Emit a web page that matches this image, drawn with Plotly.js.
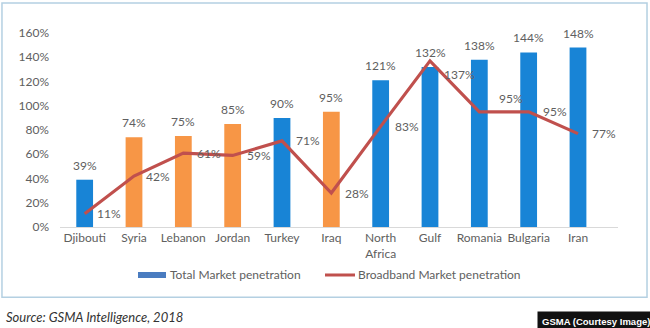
<!DOCTYPE html>
<html>
<head>
<meta charset="utf-8">
<script src="https://cdn.plot.ly/plotly-3.0.1.min.js"></script>
<style>html,body{margin:0;padding:0;background:#fff;}#chart{width:650px;height:328px;}</style>
</head>
<body>
<div id="chart"></div>
<script>
var categories = ["Djibouti","Syria","Lebanon","Jordan","Turkey","Iraq","North<br>Africa","Gulf","Romania","Bulgaria","Iran"];
var totalPenetration = [39,74,75,85,90,95,121,132,138,144,148];
var broadbandPenetration = [11,42,61,59,71,28,83,137,95,95,77];
var barGroup = ["b","o","o","o","b","o","b","b","b","b","b"];
var seriesNames = ["Total Market penetration","Broadband Market penetration"];
var yTickVals = [0,20,40,60,80,100,120,140,160];
var yTickText = ["0%","20%","40%","60%","80%","100%","120%","140%","160%"];

var BLUE = "#1884d6", ORANGE = "#f79646", RED = "#c0504d", TXT = "#606060";
var FONT = "Lato, 'Open Sans', sans-serif";

var lineLabelShift = [[10,0],[10,0],[12,0],[12,0],[12,0],[12,0],[12,0],[12,-14],[18,13],[12,0],[12,0]];

var annotations = [];
categories.forEach(function(c,i){
  annotations.push({x:c,y:totalPenetration[i],xref:"x",yref:"y",text:totalPenetration[i]+"%",
    showarrow:false,yanchor:"bottom",yshift:5,font:{family:FONT,size:12,color:TXT}});
  annotations.push({x:c,y:broadbandPenetration[i],xref:"x",yref:"y",text:broadbandPenetration[i]+"%",
    showarrow:false,xanchor:"left",yanchor:"middle",xshift:lineLabelShift[i][0],yshift:lineLabelShift[i][1],
    font:{family:FONT,size:12,color:TXT}});
});
// legend texts
annotations.push({xref:"paper",yref:"paper",x:0.1935,y:-0.2474,xanchor:"left",yanchor:"middle",showarrow:false,
  text:seriesNames[0],font:{family:FONT,size:12,color:TXT}});
annotations.push({xref:"paper",yref:"paper",x:0.5305,y:-0.2474,xanchor:"left",yanchor:"middle",showarrow:false,
  text:seriesNames[1],font:{family:FONT,size:12,color:TXT}});
annotations.push({xref:"paper",yref:"paper",x:-0.1,y:-0.465,xanchor:"left",yanchor:"middle",showarrow:false,
  text:"<i>Source: GSMA Intelligence, 2018</i>",font:{family:FONT,size:13,color:"#333"}});
annotations.push({xref:"paper",yref:"paper",x:1.066,y:-0.486,xanchor:"right",yanchor:"middle",showarrow:false,
  text:"<b>GSMA (Courtesy Image)</b>",font:{family:"'Liberation Sans', Arial, sans-serif",size:9.5,color:"#fff"},
  bgcolor:"#111",borderpad:4});

var traces = [
  {type:"bar",x:categories,y:totalPenetration,name:seriesNames[0],
   marker:{color:barGroup.map(function(g){return g==="b"?BLUE:ORANGE;})}},
  {type:"scatter",mode:"lines",x:categories,y:broadbandPenetration,name:seriesNames[1],
   line:{color:RED,width:3.2}}
];

var layout = {
  width:650,height:328,
  margin:{l:60,r:32,t:33,b:101},
  paper_bgcolor:"#fff",plot_bgcolor:"#fff",
  bargap:0.66,
  showlegend:false,
  xaxis:{type:"category",showgrid:false,showline:true,linecolor:"#d9d9d9",linewidth:1,ticks:"",
    tickfont:{family:FONT,size:12,color:TXT},automargin:false,fixedrange:true},
  yaxis:{range:[0,160],tickvals:yTickVals,ticktext:yTickText,showgrid:false,zeroline:false,showline:false,
    tickfont:{family:FONT,size:12,color:TXT},ticklabelstandoff:10,automargin:false,fixedrange:true},
  annotations:annotations,
  shapes:[
    {type:"rect",xref:"paper",yref:"paper",x0:-0.104,x1:1.052,y0:-0.362,y1:1.155,
     line:{color:"#b4d0e2",width:1.5},fillcolor:"rgba(0,0,0,0)",layer:"below"},
    {type:"rect",xref:"paper",yref:"paper",x0:0.1398,x1:0.19,y0:-0.263,y1:-0.232,
     line:{width:0},fillcolor:"#4a7cc0"},
    {type:"line",xref:"paper",yref:"paper",x0:0.4749,x1:0.5287,y0:-0.2474,y1:-0.2474,
     line:{color:RED,width:3}}
  ]
};

Plotly.newPlot("chart",traces,layout,{displayModeBar:false,staticPlot:true});
</script>
</body>
</html>
